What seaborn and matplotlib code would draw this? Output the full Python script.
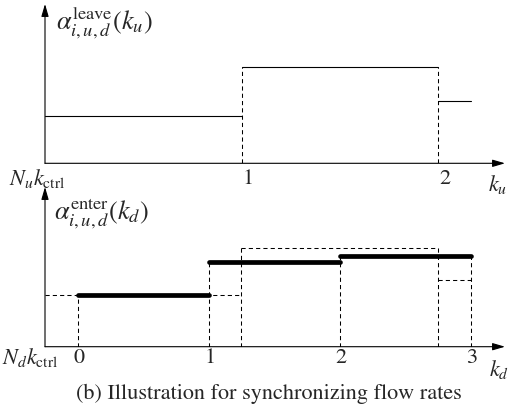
#Step plots of leave / enter flow rates (upstream vs downstream)

import numpy as np
import pandas as pd
import matplotlib
matplotlib.use('Agg')
import matplotlib.pyplot as plt
import seaborn as sns

#Upstream leave rate alpha^leave(k_u): one level per control step
up_starts = [0, 1, 2]
up_ends = [1, 2, 2.164]
up_levels = [0.473, 0.967, 0.627]

#Downstream enter rate alpha^enter(k_d): held levels (thick)
down_starts = [0, 1, 2]
down_ends = [1, 2, 3]
down_levels = [0.514, 0.844, 0.907]

#Upstream rate mapped onto the downstream step axis (dashed)
mapped_starts = [-0.25, 1.25, 2.753]
mapped_ends = [1.25, 2.753, 3.0]
mapped_levels = [0.514, 0.99, 0.667]

#Dashed drop lines
up_drop_x = [1, 2]
up_drop_top = [0.967, 0.967]
down_drop_x = [0, 1, 1.25, 2, 2.753, 3]
down_drop_top = [0.514, 0.844, 0.99, 0.907, 0.99, 0.907]

up_ticks = ['1', '2']
down_ticks = ['0', '1', '2', '3']

sns.set_style('white')
plt.rcParams['font.family'] = ['STIXGeneral', 'DejaVu Serif']
plt.rcParams['mathtext.fontset'] = 'stix'


def segments(starts, ends, levels):
    rows = []
    for i, (a, b, v) in enumerate(zip(starts, ends, levels)):
        rows.append({'x': a, 'y': v, 'seg': i})
        rows.append({'x': b, 'y': v, 'seg': i})
    return pd.DataFrame(rows)


def drops(xs, tops):
    rows = []
    for i, (a, v) in enumerate(zip(xs, tops)):
        rows.append({'x': a, 'y': 0.0, 'seg': i})
        rows.append({'x': a, 'y': v, 'seg': i})
    return pd.DataFrame(rows)


def arrow_axes(ax):
    for s in ax.spines.values():
        s.set_visible(False)
    ax.patch.set_visible(False)
    kw = dict(arrowstyle='-|>,head_length=0.75,head_width=0.22', color='k',
              lw=0.8, shrinkA=0, shrinkB=0)
    ax.annotate('', xy=(1, 0), xytext=(0, 0), xycoords='axes fraction', arrowprops=kw)
    ax.annotate('', xy=(0, 1), xytext=(0, 0), xycoords='axes fraction', arrowprops=kw)
    ax.set_xticks([])
    ax.set_yticks([])
    ax.set_xlabel('')
    ax.set_ylabel('')


W, H = 524, 405
fig = plt.figure(figsize=(W / 100, H / 100), dpi=100)
dash = (0, (4, 3))
fs = 16

#Top panel
ax1 = fig.add_axes([45 / W, (H - 163.3) / H, 460 / W, 159.3 / H])
sns.lineplot(data=drops(up_drop_x, up_drop_top), x='x', y='y', units='seg',
             estimator=None, color='k', lw=0.75, ax=ax1, linestyle=dash, legend=False)
sns.lineplot(data=segments(up_starts, up_ends, up_levels), x='x', y='y', units='seg',
             estimator=None, color='k', lw=0.8, ax=ax1, legend=False)
ax1.set_xlim(0, 2.339)
ax1.set_ylim(0, 1.593)
arrow_axes(ax1)
for pos, lab in zip([1, 2], up_ticks):
    ax1.text(pos + 0.005, -0.16, lab, ha='left', va='center', fontsize=fs)
ax1.text(-0.04, -0.15, r'$N_u k_{\mathrm{ctrl}}$', ha='center', va='center', fontsize=fs)
ax1.text(2.3, -0.21, r'$k_u$', ha='center', va='center', fontsize=fs)
ax1.text(0.055, 1.41, r'$\alpha_{i,u,d}^{\mathrm{leave}}(k_u)$', ha='left', va='center', fontsize=19)

#Bottom panel
ax2 = fig.add_axes([45 / W, (H - 346.7) / H, 460 / W, 159.7 / H])
sns.lineplot(data=drops(down_drop_x, down_drop_top), x='x', y='y', units='seg',
             estimator=None, color='k', lw=0.75, ax=ax2, linestyle=dash, legend=False)
sns.lineplot(data=segments(mapped_starts, mapped_ends, mapped_levels), x='x', y='y',
             units='seg', estimator=None, color='k', lw=0.75, ax=ax2,
             linestyle=dash, legend=False)
sns.lineplot(data=segments(down_starts, down_ends, down_levels), x='x', y='y',
             units='seg', estimator=None, color='k', lw=3.4, ax=ax2, legend=False)
ax2.set_xlim(-0.25, 3.262)
ax2.set_ylim(0, 1.597)
arrow_axes(ax2)
for pos, lab in zip([0, 1, 2, 3], down_ticks):
    ax2.text(pos + 0.01, -0.11, lab, ha='center', va='center', fontsize=fs)
ax2.text(-0.36, -0.11, r'$N_d k_{\mathrm{ctrl}}$', ha='center', va='center', fontsize=fs)
ax2.text(3.215, -0.23, r'$k_d$', ha='center', va='center', fontsize=fs)
ax2.text(-0.18, 1.33, r'$\alpha_{i,u,d}^{\mathrm{enter}}(k_d)$', ha='left', va='center', fontsize=19)

fig.text(269 / W, 1 - 399 / H, '(b) Illustration for synchronizing flow rates',
         ha='center', va='baseline', fontsize=fs)

fig.savefig('out.png', dpi=100)
